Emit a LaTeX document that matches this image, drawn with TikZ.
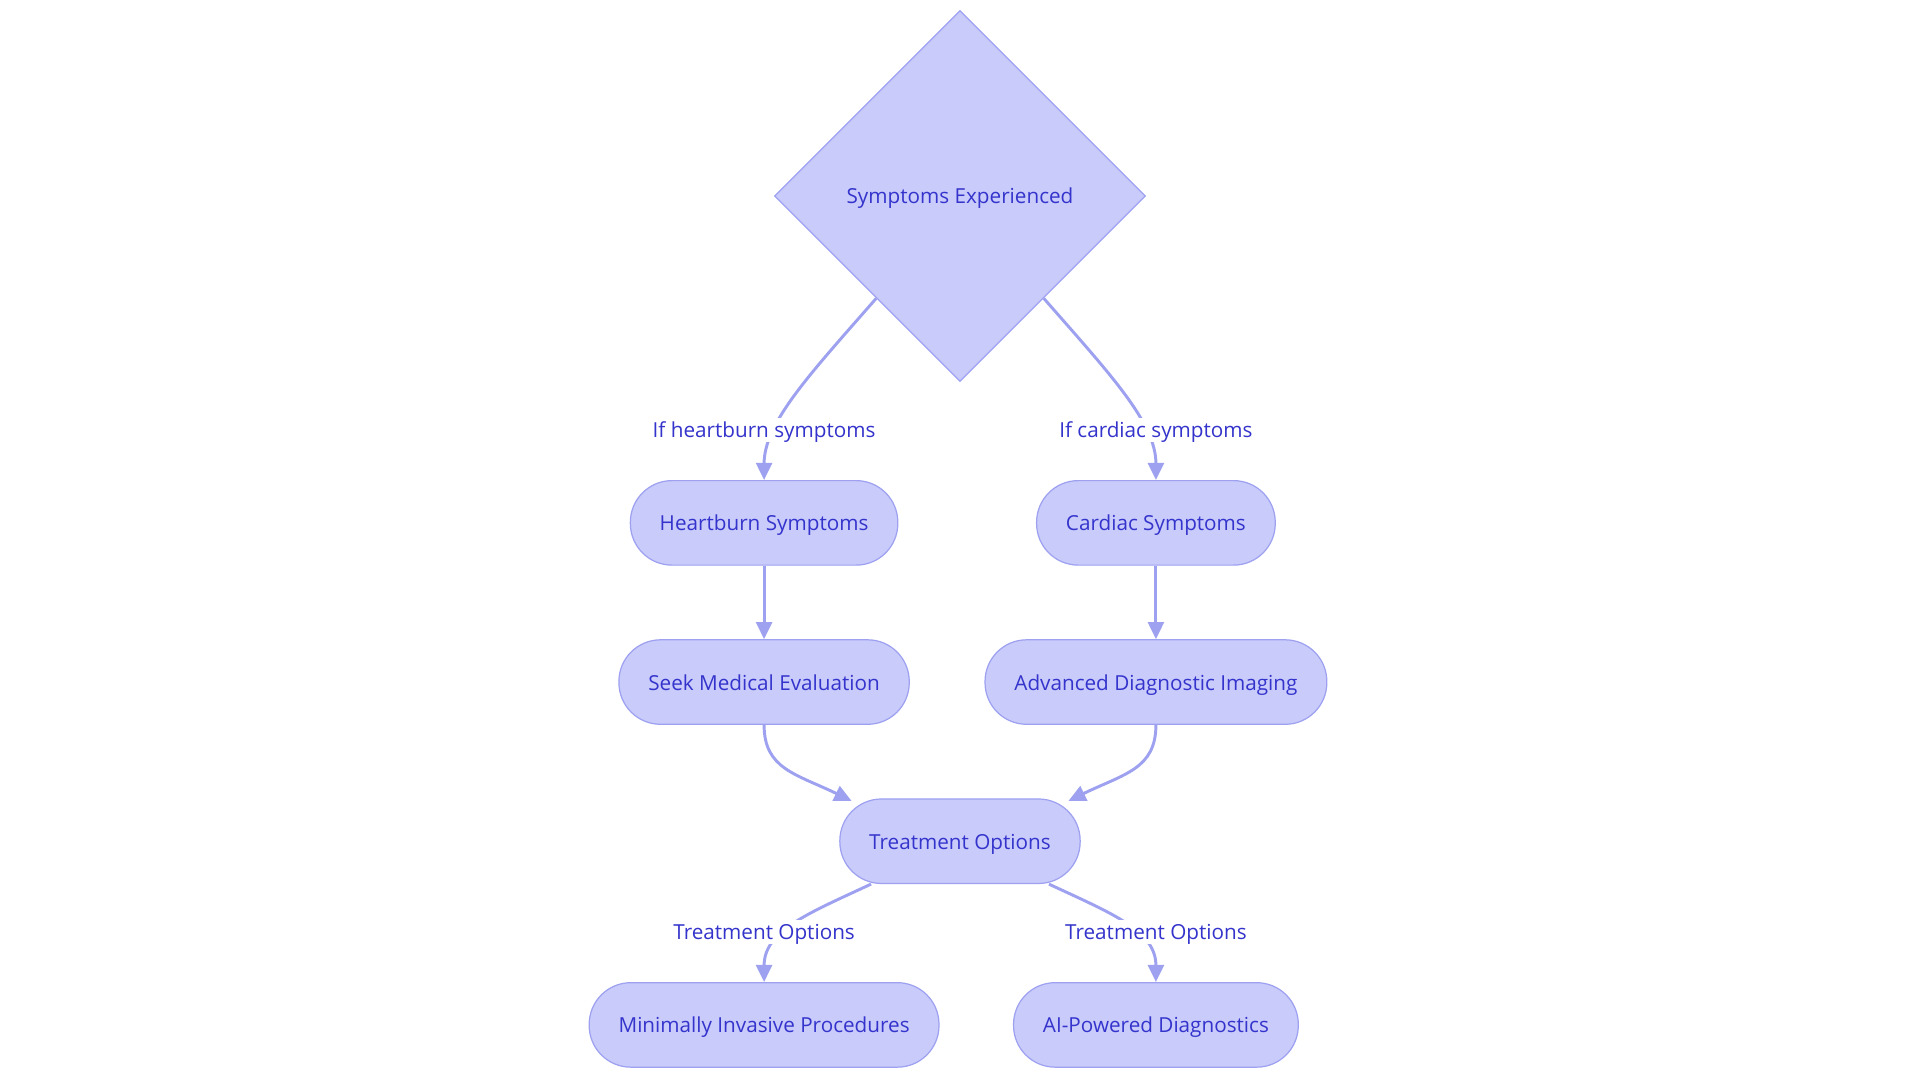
\documentclass[tikz,border=0pt]{standalone}
\usepackage{fontspec}
\setmainfont{Open Sans}
\usetikzlibrary{shapes.geometric,arrows.meta,calc}
\definecolor{nfill}{RGB}{201,203,251}
\definecolor{nstroke}{RGB}{157,161,240}
\definecolor{ntext}{RGB}{52,52,204}
\definecolor{ecol}{RGB}{157,161,240}
\tikzset{
  x=1pt,y=-1pt,
  every node/.style={font=\fontsize{16.9}{20}\selectfont, text=ntext},
  pill/.style={draw=nstroke, fill=nfill, line width=1pt, rounded corners=34pt,
     minimum height=69pt, inner xsep=24pt, inner ysep=0pt, text height=14.5pt, text depth=1.5pt},
  dia/.style={diamond, draw=nstroke, fill=nfill, line width=1pt, minimum width=303pt, minimum height=303pt, inner sep=0pt, aspect=1, text height=14.5pt, text depth=1.5pt},
  conn/.style={draw=ecol, line width=2.4pt, -{Triangle[length=14pt,width=13pt]}},
  lbl/.style={fill=white, inner xsep=1pt, inner ysep=2pt, text height=14.5pt, text depth=1.5pt},
}
\begin{document}
\begin{tikzpicture}
\useasboundingbox (0,0) rectangle (1568,884);
\node[dia] (d) at (784,160) {Symptoms Experienced};
\node[pill] (hb) at (624,427) {Heartburn Symptoms};
\node[pill] (cs) at (944,427) {Cardiac Symptoms};
\node[pill] (sm) at (624,557) {Seek Medical Evaluation};
\node[pill] (ad) at (944,557) {Advanced Diagnostic Imaging};
\node[pill] (to) at (784,687) {Treatment Options};
\node[pill] (mi) at (624,837) {Minimally Invasive Procedures};
\node[pill] (ai) at (944,837) {AI-Powered Diagnostics};

\draw[conn] ($(d.west)!0.55!(d.south)$) .. controls (662,305) and (624,345) .. (hb.north);
\draw[conn] ($(d.east)!0.55!(d.south)$) .. controls (906,305) and (944,345) .. (cs.north);
\draw[conn] (hb.south) -- (sm.north);
\draw[conn] (cs.south) -- (ad.north);
\draw[conn] (sm.south) .. controls (624,628) and (650,632) .. ($(to.north west)+(10,2)$);
\draw[conn] (ad.south) .. controls (944,628) and (918,632) .. ($(to.north east)+(-10,2)$);
\draw[conn] ($(to.south west)+(26,0)$) .. controls (660,746) and (624,760) .. (mi.north);
\draw[conn] ($(to.south east)+(-26,0)$) .. controls (908,746) and (944,760) .. (ai.north);

\node[lbl] (l1) at (624,351) {If heartburn symptoms};
\node[lbl] (l2) at (944,351) {If cardiac symptoms};
\node[lbl] (l3) at (624,761) {Treatment Options};
\node[lbl] (l4) at (944,761) {Treatment Options};
\end{tikzpicture}
\end{document}
